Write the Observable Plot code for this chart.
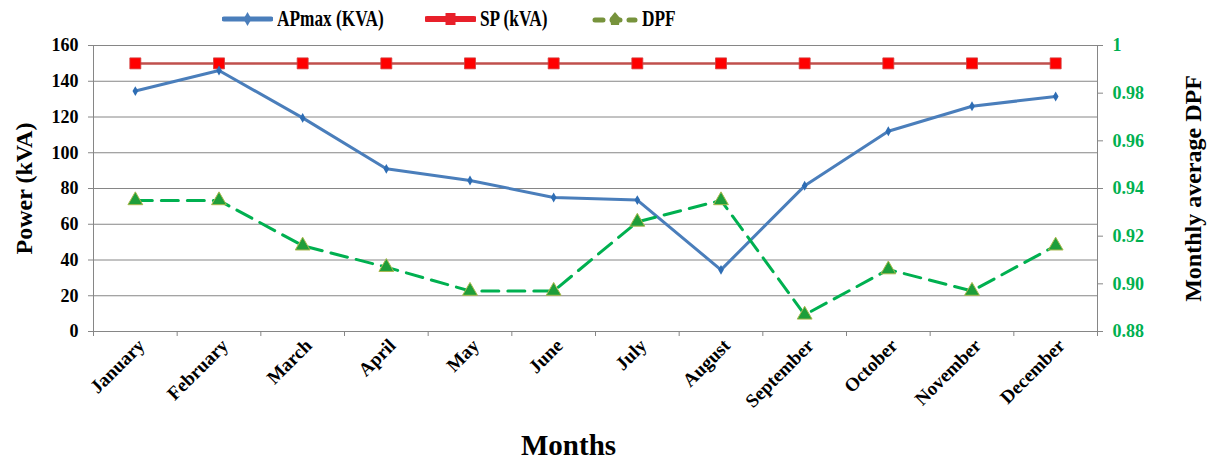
<!DOCTYPE html>
<html>
<head>
<meta charset="utf-8">
<script src="https://cdn.jsdelivr.net/npm/d3@7"></script>
<script src="https://cdn.jsdelivr.net/npm/@observablehq/plot@0.6"></script>
<style>
  html, body { margin: 0; padding: 0; background: #fff; }
  body { width: 1213px; height: 461px; overflow: hidden; font-family: "Liberation Serif", "Times New Roman", serif; }
  #legend { position: relative; height: 36px; font-weight: bold; font-size: 24px; }
  #legend .item { position: absolute; top: 5px; display: flex; align-items: center; white-space: nowrap; }
  #legend svg { display: block; margin-right: 4px; }
  #legend span { display: inline-block; transform: scaleX(0.72); transform-origin: left center; }
</style>
</head>
<body>
<div id="legend"></div>
<div id="chart"></div>
<script>
// Monthly peak apparent power, subscribed power and displacement power factor
const months = ["January", "February", "March", "April", "May", "June",
                "July", "August", "September", "October", "November", "December"];
const apmax = [134.5, 146, 119.5, 91, 84.5, 75, 73.5, 34.5, 81.5, 112, 126, 131.5];
const sp    = [150, 150, 150, 150, 150, 150, 150, 150, 150, 150, 150, 150];
const dpf   = [0.935, 0.935, 0.916, 0.907, 0.897, 0.897, 0.926, 0.935, 0.887, 0.906, 0.897, 0.916];

const powerTicks = [0, 20, 40, 60, 80, 100, 120, 140, 160];
const dpfTicks   = [0.88, 0.90, 0.92, 0.94, 0.96, 0.98, 1.00];
const powerDomain = [0, 160];
const dpfDomain   = [0.88, 1.00];

// DPF lives on the right axis; map it onto the power scale for drawing
const dpfToPower = d3.scaleLinear(dpfDomain, powerDomain);

const rows = months.map((m, i) => ({
  month: m,
  pos: i + 0.5,
  apmax: apmax[i],
  sp: sp[i],
  dpf: dpf[i],
  dpfY: dpfToPower(dpf[i])
}));

const blue = "#4A7EBB", red = "#C0504D", green = "#00B050";

// legend
const legendItems = [
  {label: "APmax (KVA)", left: 222, kind: "ap"},
  {label: "SP (kVA)", left: 425, kind: "sp"},
  {label: "DPF", left: 592, kind: "dpf"}
];
const legend = d3.select("#legend");
for (const it of legendItems) {
  const div = legend.append("div").attr("class", "item").style("left", it.left + "px");
  const w = it.kind === "dpf" ? 46 : 51;
  const s = div.append("svg").attr("width", w).attr("height", 24);
  if (it.kind === "ap") {
    s.append("line").attr("x1", 2).attr("x2", w - 2).attr("y1", 12).attr("y2", 12)
      .attr("stroke", blue).attr("stroke-width", 5).attr("stroke-linecap", "round");
    s.append("path").attr("d", `M${w / 2},5 L${w / 2 + 4},12 L${w / 2},19 L${w / 2 - 4},12Z`).attr("fill", blue);
  } else if (it.kind === "sp") {
    s.append("line").attr("x1", 2).attr("x2", w - 2).attr("y1", 12).attr("y2", 12)
      .attr("stroke", "#E8202A").attr("stroke-width", 6).attr("stroke-linecap", "round");
    s.append("rect").attr("x", w / 2 - 5).attr("y", 6).attr("width", 10).attr("height", 12).attr("fill", "#E8202A");
  } else {
    s.append("line").attr("x1", 3).attr("x2", w - 3).attr("y1", 13).attr("y2", 13)
      .attr("stroke", "#77933C").attr("stroke-width", 5).attr("stroke-linecap", "round")
      .attr("stroke-dasharray", "8,9");
    s.append("path").attr("d", `M${w / 2},5 L${w / 2 + 5},11 L${w / 2 + 4},18 L${w / 2 - 4},18 L${w / 2 - 5},11Z`).attr("fill", "#77933C");
  }
  div.append("span").text(it.label);
}

const chart = Plot.plot({
  width: 1213,
  height: 425,
  marginTop: 9,
  marginBottom: 130,
  marginLeft: 93,
  marginRight: 116,
  x: {domain: [0, months.length], axis: null},
  y: {domain: powerDomain, axis: null},
  style: {
    fontFamily: "'Liberation Serif', 'Times New Roman', serif",
    fontWeight: "bold",
    fontSize: "18px",
    background: "#fff",
    color: "#000",
    overflow: "visible"
  },
  marks: [
    Plot.gridY(powerTicks, {stroke: "#868686", strokeOpacity: 1, strokeWidth: 1}),
    Plot.frame({stroke: "#868686", strokeWidth: 1}),
    // left axis: power
    Plot.axisY(powerTicks, {
      anchor: "left", tickSize: 5, tickPadding: 10, stroke: "#868686",
      fill: "#000", fontSize: 18, fontWeight: "bold", label: null
    }),
    // right axis: DPF
    Plot.axisY(dpfTicks.map(v => dpfToPower(v)), {
      anchor: "right", tickSize: 5, tickPadding: 10, stroke: "#868686",
      fill: green, fontSize: 18, fontWeight: "bold", label: null,
      tickFormat: d => { const v = dpfToPower.invert(d); return Math.abs(v - 1) < 1e-9 ? "1" : v.toFixed(2); }
    }),
    // x axis: category boundaries and month labels
    Plot.axisX(d3.range(0, months.length + 1), {
      anchor: "bottom", tickSize: 5, stroke: "#868686", tickFormat: () => "", label: null
    }),
    Plot.axisX(rows.map(d => d.pos), {
      anchor: "bottom", tickSize: 0, tickPadding: 11, tickRotate: -45, dx: 6,
      tickFormat: d => months[Math.floor(d)], fontSize: 19, fontWeight: "bold", label: null
    }),
    // axis titles
    Plot.text(["Power (kVA)"], {frameAnchor: "left", textAnchor: "middle", rotate: -90, dx: -69, fontSize: 24, fontWeight: "bold"}),
    Plot.text(["Monthly average DPF"], {frameAnchor: "right", textAnchor: "middle", rotate: -90, dx: 96, fontSize: 24, fontWeight: "bold"}),
    Plot.text(["Months"], {frameAnchor: "bottom", dy: 123, dx: -27, fontSize: 29, fontWeight: "bold"}),
    // SP
    Plot.line(rows, {x: "pos", y: "sp", stroke: red, strokeWidth: 2.5}),
    Plot.dot(rows, {x: "pos", y: "sp", symbol: "square", r: 6.2, fill: "#FF0000", stroke: "#D04040", strokeWidth: 0.8}),
    // APmax
    Plot.line(rows, {x: "pos", y: "apmax", stroke: blue, strokeWidth: 3}),
    Plot.dot(rows, {x: "pos", y: "apmax", symbol: "diamond", r: 3, fill: "#2E6DB4"}),
    // DPF
    Plot.line(rows, {x: "pos", y: "dpfY", stroke: green, strokeWidth: 3, strokeDasharray: "17,9"}),
    Plot.dot(rows, {x: "pos", y: "dpfY", symbol: "triangle", r: 5.5, fill: "#1E9E3A", stroke: "#A8B84C", strokeWidth: 1})
  ]
});
document.getElementById("chart").appendChild(chart);
</script>
</body>
</html>
